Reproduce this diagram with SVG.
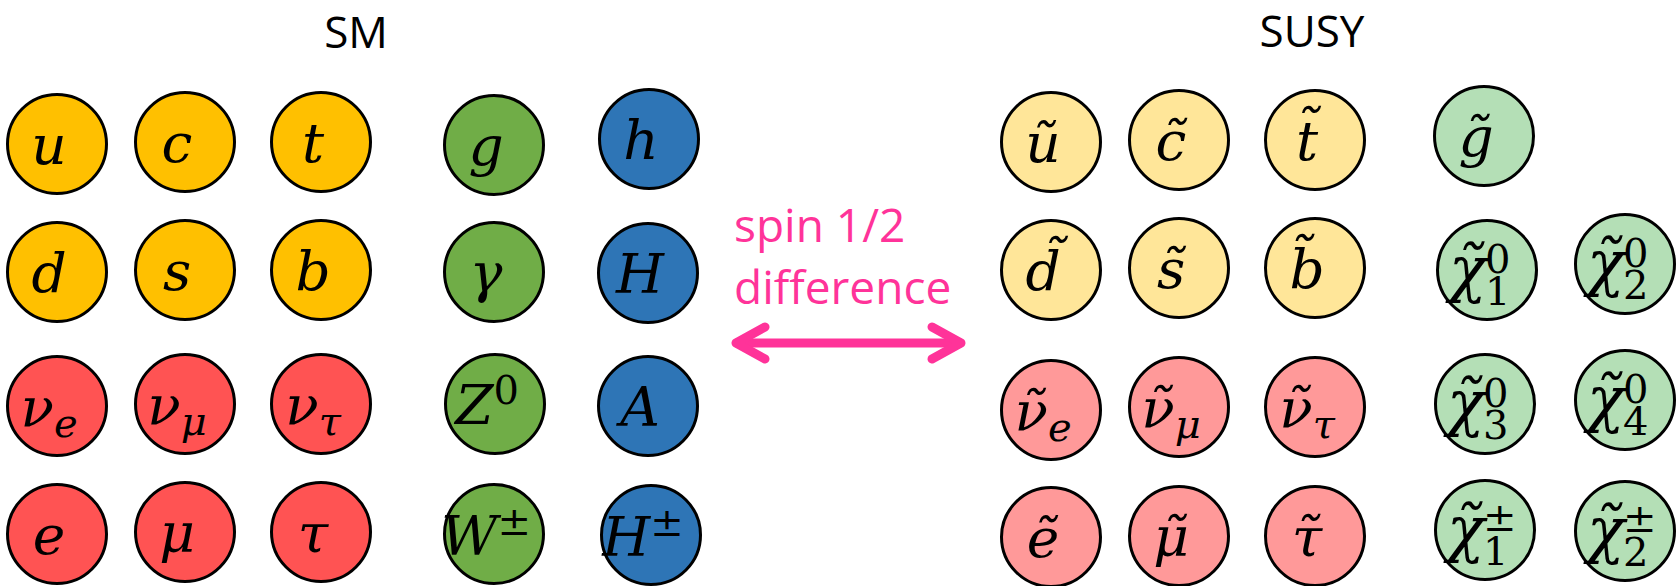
<svg xmlns="http://www.w3.org/2000/svg" width="1680" height="586" viewBox="0 0 1680 586">
<style>
.n{stroke:#000;stroke-width:3}
.qy{fill:#FFC000}.lr{fill:#FF5353}.gg{fill:#70AD47}.hb{fill:#2E75B6}
.sy{fill:#FFE699}.sr{fill:#FF9999}.sg{fill:#B4DFB6}
.m{font-family:"DejaVu Serif",serif;font-style:italic;font-size:55px;fill:#000;text-anchor:middle}
.ms{font-family:"DejaVu Serif",serif;font-style:italic;font-size:62px;fill:#000}
.sc{font-size:40px}
.up{font-style:normal}
.ttl{font-family:"Open Sans",sans-serif;font-size:44px;fill:#000;text-anchor:middle}
.pk{font-family:"Open Sans",sans-serif;font-size:46px;fill:#FF3399}
.ar{fill:none;stroke:#FF3399;stroke-width:9;stroke-linecap:round;stroke-linejoin:round}
</style>
<text class="ttl" x="356" y="48">SM</text>
<text class="ttl" x="1312" y="47">SUSY</text>
<text class="pk" x="734" y="242">spin 1/2</text>
<text class="pk" x="734" y="304">difference</text>
<g id="connectors">
<path class="ar" d="M737,343 H960"/>
<path class="ar" d="M765,327 L736,343 L765,359"/>
<path class="ar" d="M932,327 L961,343 L932,359"/>
</g>
<!-- SM -->
<g id="sm-u"><circle class="n qy" cx="57" cy="144" r="49.5"/><text class="m" x="49" y="164">u</text></g>
<g id="sm-c"><circle class="n qy" cx="185" cy="142" r="49.5"/><text class="m" x="177" y="162">c</text></g>
<g id="sm-t"><circle class="n qy" cx="321" cy="142" r="49.5"/><text class="m" x="313" y="162">t</text></g>
<g id="sm-g"><circle class="n gg" cx="494" cy="145" r="49.5"/><text class="m" x="486" y="165">g</text></g>
<g id="sm-h"><circle class="n hb" cx="649" cy="139" r="49.5"/><text class="m" x="641" y="159">h</text></g>
<g id="sm-d"><circle class="n qy" cx="57" cy="272" r="49.5"/><text class="m" x="49" y="292">d</text></g>
<g id="sm-s"><circle class="n qy" cx="185" cy="270" r="49.5"/><text class="m" x="177" y="290">s</text></g>
<g id="sm-b"><circle class="n qy" cx="321" cy="270" r="49.5"/><text class="m" x="313" y="290">b</text></g>
<g id="sm-gamma"><circle class="n gg" cx="494" cy="272" r="49.5"/><text class="m" x="486" y="292">γ</text></g>
<g id="sm-H"><circle class="n hb" cx="648" cy="273" r="49.5"/><text class="m" x="640" y="293">H</text></g>
<g id="sm-nue"><circle class="n lr" cx="57" cy="406" r="49.5"/><text class="m" x="49" y="426">ν<tspan class="sc" dy="11">e</tspan></text></g>
<g id="sm-num"><circle class="n lr" cx="185" cy="404" r="49.5"/><text class="m" x="177" y="424">ν<tspan class="sc" dy="11">μ</tspan></text></g>
<g id="sm-nut"><circle class="n lr" cx="321" cy="404" r="49.5"/><text class="m" x="313" y="424">ν<tspan class="sc" dy="11">τ</tspan></text></g>
<g id="sm-Z"><circle class="n gg" cx="495" cy="404" r="49.5"/><text class="m" x="487" y="424">Z<tspan class="sc up" dy="-20">0</tspan></text></g>
<g id="sm-A"><circle class="n hb" cx="648" cy="406" r="49.5"/><text class="m" x="640" y="426">A</text></g>
<g id="sm-e"><circle class="n lr" cx="57" cy="534" r="49.5"/><text class="m" x="49" y="554">e</text></g>
<g id="sm-mu"><circle class="n lr" cx="185" cy="532" r="49.5"/><text class="m" x="177" y="552">μ</text></g>
<g id="sm-tau"><circle class="n lr" cx="321" cy="532" r="49.5"/><text class="m" x="313" y="552">τ</text></g>
<g id="sm-W"><circle class="n gg" cx="494" cy="534" r="49.5"/><text class="m" x="486" y="555">W<tspan class="sc up" dy="-20">±</tspan></text></g>
<g id="sm-Hpm"><circle class="n hb" cx="651" cy="535" r="49.5"/><text class="m" x="643" y="556">H<tspan class="sc up" dy="-20">±</tspan></text></g>
<!-- SUSY -->
<g id="susy-u"><circle class="n sy" cx="1051" cy="142" r="49.5"/><text class="m" x="1043" y="162">ũ</text></g>
<g id="susy-c"><circle class="n sy" cx="1179" cy="140" r="49.5"/><text class="m" x="1171" y="160">c̃</text></g>
<g id="susy-t"><circle class="n sy" cx="1315" cy="140" r="49.5"/><text class="m" x="1307" y="160">t̃</text></g>
<g id="susy-g"><circle class="n sg" cx="1484" cy="136" r="49.5"/><text class="m" x="1476" y="156">g̃</text></g>
<g id="susy-d"><circle class="n sy" cx="1051" cy="270" r="49.5"/><text class="m" x="1043" y="290">d̃</text></g>
<g id="susy-s"><circle class="n sy" cx="1179" cy="268" r="49.5"/><text class="m" x="1171" y="288">s̃</text></g>
<g id="susy-b"><circle class="n sy" cx="1315" cy="268" r="49.5"/><text class="m" x="1307" y="288">b̃</text></g>
<g id="susy-chi01"><circle class="n sg" cx="1487" cy="270" r="49.5"/><text class="ms" x="1449" y="290">χ̃<tspan class="sc up" x="1485" dy="-17">0</tspan><tspan class="sc up" x="1485" dy="32">1</tspan></text></g>
<g id="susy-chi02"><circle class="n sg" cx="1625" cy="264" r="49.5"/><text class="ms" x="1587" y="284">χ̃<tspan class="sc up" x="1623" dy="-17">0</tspan><tspan class="sc up" x="1623" dy="32">2</tspan></text></g>
<g id="susy-nue"><circle class="n sr" cx="1051" cy="410" r="49.5"/><text class="m" x="1043" y="430">ν̃<tspan class="sc" dy="11">e</tspan></text></g>
<g id="susy-num"><circle class="n sr" cx="1179" cy="407" r="49.5"/><text class="m" x="1171" y="427">ν̃<tspan class="sc" dy="11">μ</tspan></text></g>
<g id="susy-nut"><circle class="n sr" cx="1315" cy="407" r="49.5"/><text class="m" x="1307" y="427">ν̃<tspan class="sc" dy="11">τ</tspan></text></g>
<g id="susy-chi03"><circle class="n sg" cx="1485" cy="404" r="49.5"/><text class="ms" x="1447" y="424">χ̃<tspan class="sc up" x="1483" dy="-17">0</tspan><tspan class="sc up" x="1483" dy="32">3</tspan></text></g>
<g id="susy-chi04"><circle class="n sg" cx="1625" cy="400" r="49.5"/><text class="ms" x="1587" y="420">χ̃<tspan class="sc up" x="1623" dy="-17">0</tspan><tspan class="sc up" x="1623" dy="32">4</tspan></text></g>
<g id="susy-e"><circle class="n sr" cx="1051" cy="537" r="49.5"/><text class="m" x="1043" y="557">ẽ</text></g>
<g id="susy-mu"><circle class="n sr" cx="1179" cy="536" r="49.5"/><text class="m" x="1171" y="556">μ̃</text></g>
<g id="susy-tau"><circle class="n sr" cx="1315" cy="536" r="49.5"/><text class="m" x="1307" y="556">τ̃</text></g>
<g id="susy-chipm1"><circle class="n sg" cx="1485" cy="530" r="49.5"/><text class="ms" x="1447" y="550">χ̃<tspan class="sc up" x="1483" dy="-19">±</tspan><tspan class="sc up" x="1483" dy="34">1</tspan></text></g>
<g id="susy-chipm2"><circle class="n sg" cx="1625" cy="531" r="49.5"/><text class="ms" x="1587" y="551">χ̃<tspan class="sc up" x="1623" dy="-19">±</tspan><tspan class="sc up" x="1623" dy="34">2</tspan></text></g>
</svg>
